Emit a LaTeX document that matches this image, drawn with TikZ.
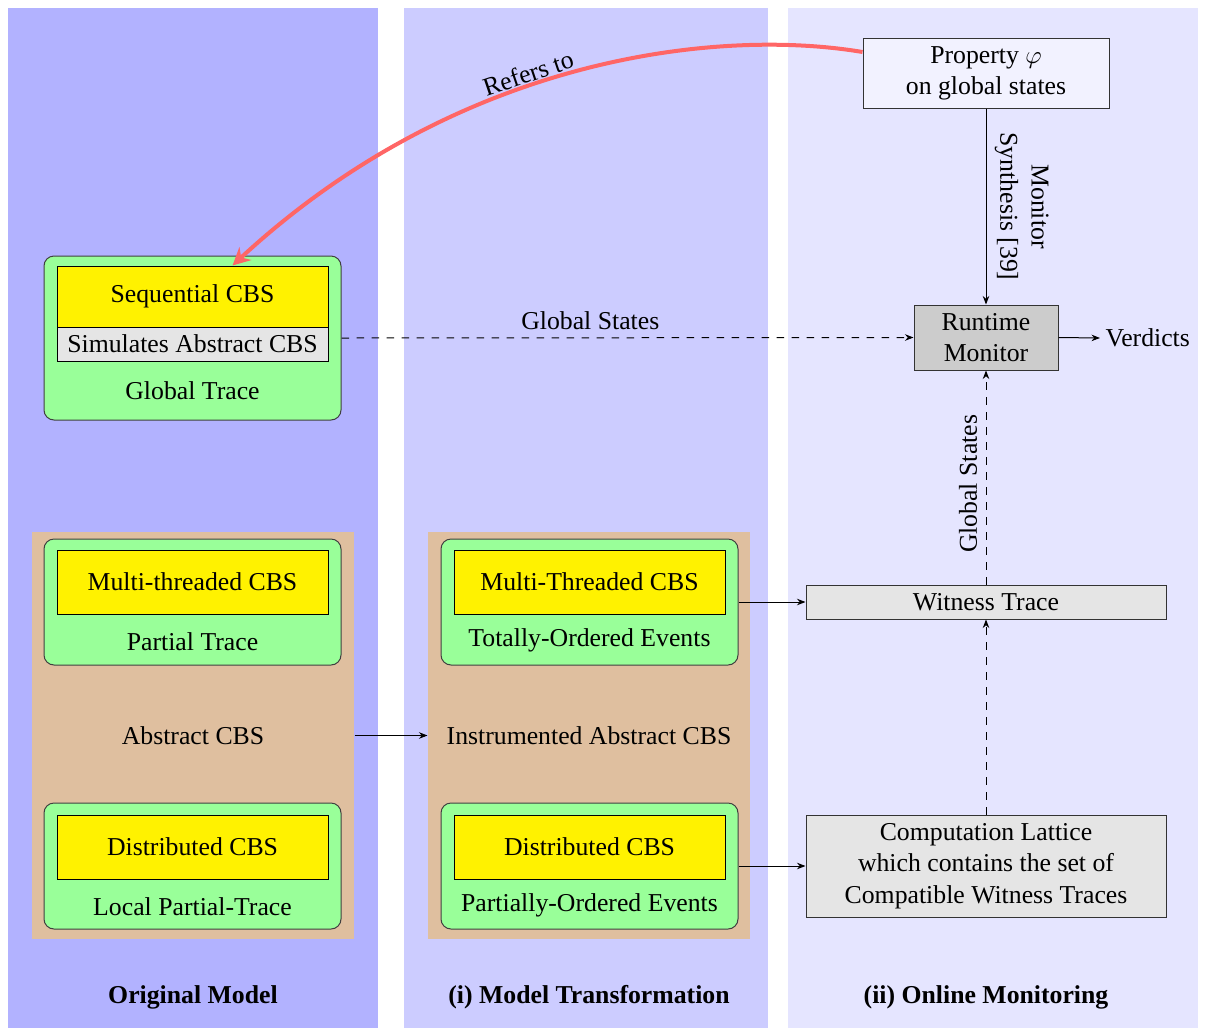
\documentclass[tikz,border=0pt]{standalone}
\usepackage{fontspec}
\setmainfont{Liberation Serif}
\usetikzlibrary{arrows.meta}
\begin{document}
\begin{tikzpicture}[x=0.4pt,y=-0.4pt,
  every node/.style={font=\fontsize{10.3}{12.5}\selectfont},
  >={Stealth[length=3.4pt,width=2.6pt]},
  greenbox/.style={draw=black!75, fill=green!40, rounded corners=4pt, minimum width=297*0.4pt, minimum height=126*0.4pt, inner sep=0pt},
  yellowbox/.style={draw=black, fill=yellow, minimum width=271*0.4pt, minimum height=64*0.4pt, inner sep=0pt},
  graybox/.style={draw=black, fill=black!10, inner sep=0pt},
  brownbox/.style={fill=brown!50, minimum width=322*0.4pt, minimum height=407*0.4pt, inner sep=0pt},
  plain/.style={inner sep=0pt},
  coltitle/.style={font=\fontsize{10.3}{12.5}\selectfont\bfseries},
  dashedarrow/.style={dashed, ->},
]
\useasboundingbox (0,0) rectangle (1208,1028);
% columns
\fill[blue!30] (8,8) rectangle (378,1028);
\fill[blue!20] (404,8) rectangle (768,1028);
\fill[blue!10] (788,8) rectangle (1198,1028);

% column 1
\node[greenbox, minimum height=164*0.4pt] (G1) at (192.5,338) {};
\node[yellowbox, minimum height=61*0.4pt] (Y1) at (192.5,296.5) {Sequential CBS};
\node[graybox, minimum width=271*0.4pt, minimum height=34*0.4pt] (S1) at (192.5,344) {Simulates Abstract CBS};
\node[plain] (T1) at (192.5,391) {Global Trace};

\node[brownbox] (B1) at (193,735.5) {Abstract CBS};
\node[greenbox] (G2) at (192.5,602) {};
\node[yellowbox] (Y2) at (192.5,582) {Multi-threaded CBS};
\node[plain] (T2) at (192.5,642) {Partial Trace};
\node[greenbox] (G3) at (192.5,866) {};
\node[yellowbox] (Y3) at (192.5,847) {Distributed CBS};
\node[plain] (T3) at (192.5,907) {Local Partial-Trace};

% column 2
\node[brownbox] (B2) at (589,735.5) {Instrumented Abstract CBS};
\node[greenbox] (G4) at (589.5,602) {};
\node[yellowbox] (Y4) at (589.5,582) {Multi-Threaded CBS};
\node[plain] (T4) at (589.5,640) {Totally-Ordered Events};
\node[greenbox] (G5) at (589.5,866) {};
\node[yellowbox] (Y5) at (589.5,847) {Distributed CBS};
\node[plain] (T5) at (589.5,905) {Partially-Ordered Events};

% column 3
\node[draw=black!80, fill=blue!5, align=center, minimum width=246*0.4pt, minimum height=70*0.4pt, inner sep=0pt] (prop) at (986,73) {Property $\varphi$\\on global states};
\node[draw=black!80, fill=black!20, align=center, minimum width=144*0.4pt, minimum height=65*0.4pt, inner sep=0pt] (rm) at (986,337.5) {Runtime\\Monitor};
\node[anchor=west, inner sep=2pt] (verd) at (1100,338) {Verdicts};
\node[graybox, draw=black!80, minimum width=360*0.4pt, minimum height=34*0.4pt] (wt) at (986,602) {Witness Trace};
\node[graybox, draw=black!80, align=center, minimum width=360*0.4pt, minimum height=102*0.4pt] (cl) at (986,866) {Computation Lattice\\which contains the set of\\Compatible Witness Traces};

% titles
\node[coltitle] (c1) at (193,997) {Original Model};
\node[coltitle] (c2) at (589,997) {(i) Model Transformation};
\node[coltitle] (c3) at (986,997) {(ii) Online Monitoring};

% connectors
\draw[->] (B1.east) -- (B2.west);
\draw[->] (G4.east) -- (wt.west);
\draw[->] (G5.east) -- (cl.west);
\draw[dashedarrow] (cl.north) -- (wt.south);
\draw[dashedarrow] (wt.north) -- node[pos=0.47, rotate=90, anchor=south] {Global States} (rm.south);
\draw[dashedarrow] (G1.east) -- node[pos=0.435, above, inner sep=3pt] {Global States} (rm.west);
\draw[->] (prop.south) -- node[midway, rotate=-90, anchor=south, align=center] {Monitor\\Synthesis [39]} (rm.north);
\draw[->] (rm.east) -- (verd.west);
\draw[red!60, line width=1.6pt, -{Stealth[length=7pt,width=7pt]}]
  ([yshift=8.4pt]prop.west) .. controls (720,28) and (460,55) .. ([xshift=16pt]Y1.north)
  node[pos=0.57, sloped, above, inner sep=0.5pt, text=black] {Refers to};
\end{tikzpicture}
\end{document}
